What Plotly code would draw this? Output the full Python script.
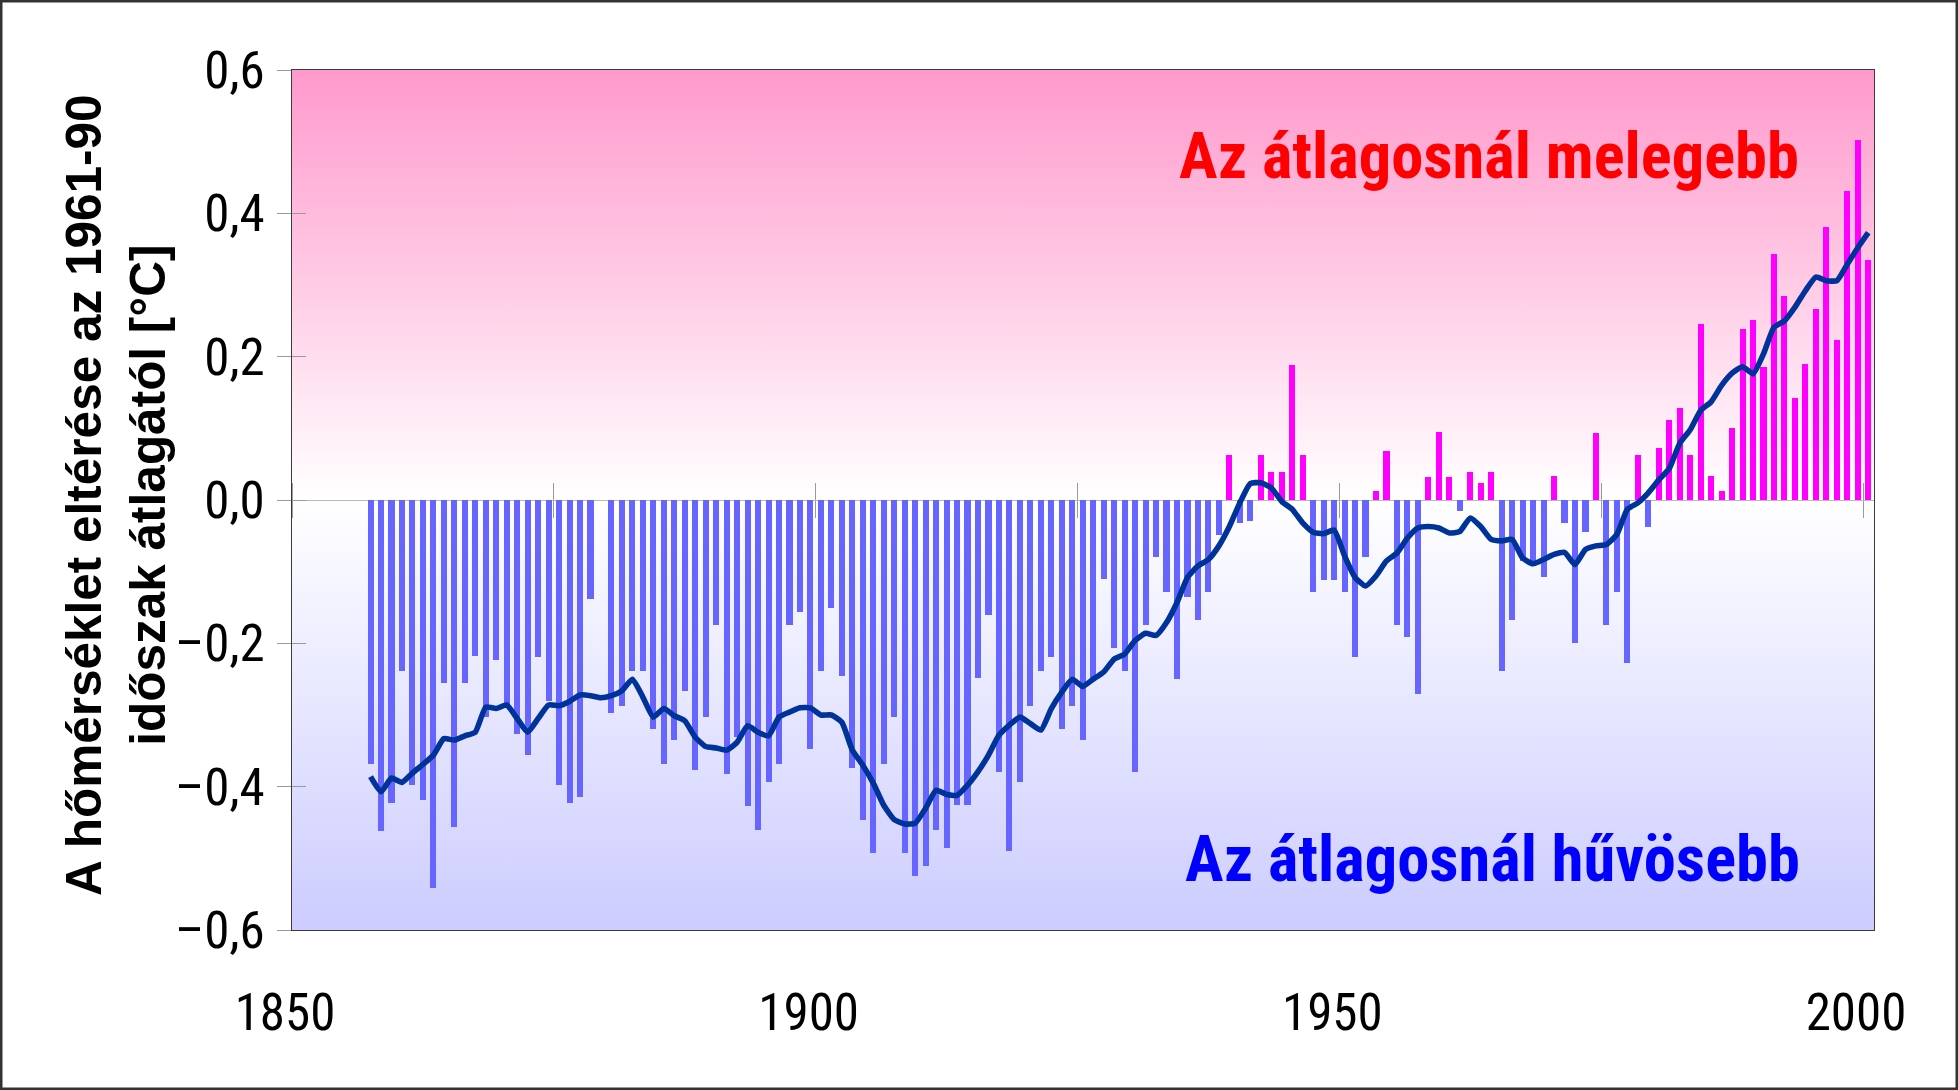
import base64
import plotly.graph_objects as go

# ---------------- data ----------------
years = list(range(1856, 2000))

anomaly = [
    -0.368, -0.462, -0.423, -0.239, -0.398, -0.419, -0.542, -0.255, -0.456, -0.255,  # 1856-1865
    -0.218, -0.303, -0.223, -0.290, -0.326, -0.356, -0.219, -0.280, -0.398, -0.423,  # 1866-1875
    -0.414, -0.138, 0.000, -0.297, -0.287, -0.239, -0.239, -0.319, -0.368, -0.335,   # 1876-1885
    -0.267, -0.377, -0.303, -0.175, -0.382, -0.330, -0.427, -0.461, -0.394, -0.368,  # 1886-1895
    -0.175, -0.156, -0.348, -0.239, -0.151, -0.246, -0.374, -0.447, -0.493, -0.368,  # 1896-1905
    -0.303, -0.493, -0.525, -0.510, -0.460, -0.486, -0.426, -0.426, -0.248, -0.160,  # 1906-1915
    -0.379, -0.490, -0.394, -0.287, -0.239, -0.219, -0.319, -0.287, -0.335, -0.250,  # 1916-1925
    -0.110, -0.207, -0.239, -0.380, -0.174, -0.079, -0.128, -0.250, -0.135, -0.167,  # 1926-1935
    -0.128, -0.049, 0.063, -0.032, -0.029, 0.063, 0.039, 0.039, 0.188, 0.063,        # 1936-1945
    -0.128, -0.111, -0.111, -0.128, -0.219, -0.079, 0.013, 0.068, -0.174, -0.191,    # 1946-1955
    -0.271, 0.032, 0.095, 0.032, -0.016, 0.039, 0.024, 0.039, -0.239, -0.167,        # 1956-1965
    -0.085, -0.092, -0.108, 0.033, -0.032, -0.200, -0.045, 0.093, -0.175, -0.128,    # 1966-1975
    -0.227, 0.063, -0.038, 0.072, 0.112, 0.128, 0.063, 0.246, 0.033, 0.012,          # 1976-1985
    0.100, 0.239, 0.251, 0.186, 0.343, 0.285, 0.143, 0.190, 0.266, 0.381,            # 1986-1995
    0.223, 0.431, 0.503, 0.335,                                                      # 1996-1999
]

smoothed = [
    -0.386, -0.407, -0.388, -0.394, -0.381, -0.369, -0.356, -0.333, -0.335, -0.329,  # 1856-1865
    -0.324, -0.289, -0.291, -0.286, -0.305, -0.324, -0.305, -0.286, -0.287, -0.281,  # 1866-1875
    -0.272, -0.273, -0.276, -0.273, -0.266, -0.250, -0.275, -0.303, -0.291, -0.301,  # 1876-1885
    -0.308, -0.331, -0.344, -0.346, -0.349, -0.338, -0.315, -0.324, -0.329, -0.303,  # 1886-1895
    -0.296, -0.290, -0.290, -0.300, -0.300, -0.310, -0.349, -0.370, -0.395, -0.426,  # 1896-1905
    -0.446, -0.452, -0.451, -0.430, -0.405, -0.411, -0.412, -0.398, -0.379, -0.356,  # 1906-1915
    -0.328, -0.314, -0.303, -0.312, -0.321, -0.291, -0.268, -0.250, -0.260, -0.250,  # 1916-1925
    -0.240, -0.222, -0.215, -0.196, -0.186, -0.189, -0.171, -0.143, -0.108, -0.092,  # 1926-1935
    -0.083, -0.064, -0.037, -0.004, 0.023, 0.024, 0.017, -0.002, -0.013, -0.032,     # 1936-1945
    -0.045, -0.047, -0.042, -0.078, -0.108, -0.120, -0.106, -0.085, -0.074, -0.053,  # 1946-1955
    -0.039, -0.037, -0.039, -0.046, -0.044, -0.025, -0.037, -0.055, -0.057, -0.055,  # 1956-1965
    -0.081, -0.089, -0.083, -0.076, -0.073, -0.090, -0.069, -0.064, -0.062, -0.048,  # 1966-1975
    -0.013, -0.004, 0.010, 0.028, 0.044, 0.079, 0.098, 0.125, 0.137, 0.160,          # 1976-1985
    0.177, 0.186, 0.176, 0.204, 0.241, 0.250, 0.269, 0.292, 0.311, 0.306,            # 1986-1995
    0.306, 0.329, 0.352, 0.373,                                                      # 1996-1999
]

# axis labelling (the reference's year labels sit 1.5 yr left of the bar years)
x_label_vals = [1848.5, 1898.5, 1948.5, 1998.5]
x_label_text = ["1850", "1900", "1950", "2000"]
x_tick_vals = [1848.5, 1873.5, 1898.5, 1923.5, 1948.5, 1973.5, 1998.5]
y_tick_vals = [-0.6, -0.4, -0.2, 0.0, 0.2, 0.4, 0.6]
y_tick_text = ["\u20130,6", "\u20130,4", "\u20130,2", "0,0", "0,2", "0,4", "0,6"]

title_lines = ["A hőmérséklet eltérése az 1961-90", "időszak átlagától [°C]"]
warm_label = "Az átlagosnál melegebb"
cool_label = "Az átlagosnál hűvösebb"

# ---------------- styling ----------------
W, H = 1958, 1090
ML, MR, MT, MB = 292, 84, 70, 160
PW, PH = W - ML - MR, H - MT - MB
X_RANGE = [1848.5, 1999.55]
Y_RANGE = [-0.6, 0.6]

NARROW = "Liberation Sans Narrow, Arial Narrow, Roboto Condensed, DejaVu Sans Condensed, Liberation Sans, Arial, sans-serif"
SANS = "Liberation Sans, Arial, sans-serif"

POS_COLOR = "#FF00FF"
NEG_COLOR = "#6666FF"
LINE_COLOR = "#003399"
TICK_COLOR = "#9a9a9a"

bar_colors = [POS_COLOR if v > 0 else NEG_COLOR for v in anomaly]

fig = go.Figure()

fig.add_trace(go.Bar(
    x=years, y=anomaly, width=0.58,
    marker=dict(color=bar_colors, line=dict(width=0)),
    showlegend=False, hoverinfo="x+y",
))

fig.add_trace(go.Scatter(
    x=years, y=smoothed, mode="lines",
    line=dict(color=LINE_COLOR, width=5.6, shape="spline", smoothing=0.5),
    showlegend=False, hoverinfo="x+y",
))

# empty helper traces so the overlay tick axes are drawn
fig.add_trace(go.Scatter(x=[], y=[], xaxis="x2", yaxis="y2", showlegend=False, hoverinfo="skip"))
fig.add_trace(go.Scatter(x=[], y=[], xaxis="x3", yaxis="y2", showlegend=False, hoverinfo="skip"))

# vertical gradient background of the plot area
svg = (
    "<svg xmlns='http://www.w3.org/2000/svg' width='100' height='100' viewBox='0 0 100 100' "
    "preserveAspectRatio='none'><defs><linearGradient id='g' x1='0' y1='0' x2='0' y2='1'>"
    "<stop offset='0' stop-color='#FF99CC'/><stop offset='0.5' stop-color='#FFFFFF'/>"
    "<stop offset='1' stop-color='#CCCCFF'/></linearGradient></defs>"
    "<rect x='0' y='0' width='100' height='100' fill='url(#g)'/></svg>"
)
bg_src = "data:image/svg+xml;base64," + base64.b64encode(svg.encode("utf-8")).decode("ascii")

fig.update_layout(
    width=W, height=H,
    margin=dict(l=ML, r=MR, t=MT, b=MB, pad=0),
    paper_bgcolor="white",
    plot_bgcolor="rgba(0,0,0,0)",
    bargap=0,
    images=[dict(source=bg_src, xref="paper", yref="paper", x=0, y=1,
                 sizex=1, sizey=1, sizing="stretch", layer="below")],
    xaxis=dict(
        range=X_RANGE, domain=[0, 1], anchor="y", side="bottom",
        tickmode="array", tickvals=x_label_vals, ticktext=x_label_text,
        ticks="", showgrid=False, zeroline=False,
        showline=True, mirror=True, linecolor="#3a3a3a", linewidth=1.3,
        tickfont=dict(family=NARROW, size=51, color="black"),
        ticklabelshift=-7, ticklabelstandoff=38,
    ),
    xaxis2=dict(
        range=X_RANGE, overlaying="x", anchor="free", position=0.5, side="bottom",
        tickmode="array", tickvals=x_tick_vals, ticks="outside", ticklen=17,
        tickcolor=TICK_COLOR, tickwidth=1, showticklabels=False,
        showgrid=False, zeroline=False, showline=False,
    ),
    xaxis3=dict(
        range=X_RANGE, overlaying="x", anchor="free", position=0.5, side="top",
        tickmode="array", tickvals=x_tick_vals, ticks="outside", ticklen=17,
        tickcolor=TICK_COLOR, tickwidth=1, showticklabels=False,
        showgrid=False, zeroline=False, showline=False,
    ),
    yaxis=dict(
        range=Y_RANGE, domain=[0, 1], anchor="x",
        tickmode="array", tickvals=y_tick_vals, ticktext=y_tick_text,
        ticks="outside", ticklen=14, tickcolor=TICK_COLOR, tickwidth=1,
        showgrid=False, zeroline=True, zerolinecolor="#b8b8b8", zerolinewidth=1.2,
        showline=True, mirror=True, linecolor="#3a3a3a", linewidth=1.3,
        tickfont=dict(family=NARROW, size=51, color="black"),
        ticklabelstandoff=2,
    ),
    yaxis2=dict(
        range=Y_RANGE, overlaying="y", anchor="x", side="left",
        tickmode="array", tickvals=y_tick_vals, ticks="inside", ticklen=14,
        tickcolor=TICK_COLOR, tickwidth=1, showticklabels=False,
        showgrid=False, zeroline=False, showline=False,
    ),
    annotations=[
        dict(text="<br>".join(title_lines), xref="paper", yref="paper",
             x=(115 - ML) / PW, y=(MT + PH - 495) / PH, xanchor="center", yanchor="middle",
             textangle=-90, showarrow=False, align="center",
             font=dict(family=SANS, size=49.5, color="black", weight="bold")),
        dict(text=warm_label, xref="paper", yref="paper",
             x=(1488.5 - ML) / PW, y=(MT + PH - 156) / PH, xanchor="center", yanchor="middle",
             showarrow=False, font=dict(family=NARROW, size=64.5, color="#FF0000", weight="bold")),
        dict(text=cool_label, xref="paper", yref="paper",
             x=(1492.7 - ML) / PW, y=(MT + PH - 859) / PH, xanchor="center", yanchor="middle",
             showarrow=False, font=dict(family=NARROW, size=64.5, color="#0000FF", weight="bold")),
    ],
    shapes=[
        dict(type="rect", xref="paper", yref="paper",
             x0=-ML / PW, x1=1 + MR / PW, y0=-MB / PH, y1=1 + MT / PH,
             line=dict(color="#333333", width=5), fillcolor="rgba(0,0,0,0)", layer="above"),
    ],
)

fig.write_html("out.html", config={"displayModeBar": False},
               post_script="document.body.style.margin='0';document.body.style.overflow='hidden';")
